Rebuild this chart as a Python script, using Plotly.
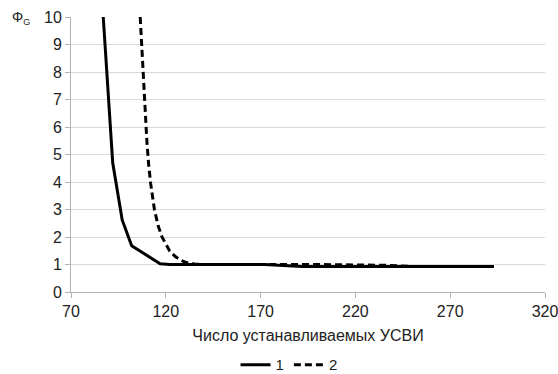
import plotly.graph_objects as go

# Series 1 (solid)
x1 = [87, 92, 97, 102, 117, 122, 140, 160, 172, 192, 220, 250, 293]
y1 = [10.0, 4.7, 2.62, 1.68, 1.03, 1.0, 1.0, 1.0, 1.0, 0.93, 0.93, 0.93, 0.93]

# Series 2 (dashed)
x2 = [106.5, 108, 109, 110, 111, 112, 114, 116, 118, 120, 122, 125, 128, 131, 135, 140,
      170, 200, 237, 250, 293]
y2 = [10.0, 8.0, 6.6, 5.5, 4.6, 3.95, 3.0, 2.4, 2.0, 1.72, 1.5, 1.29, 1.15, 1.07, 1.02, 1.0,
      1.0, 1.0, 0.97, 0.93, 0.93]

names = ["1", "2"]
x_ticks = [70, 120, 170, 220, 270, 320]
y_ticks = list(range(0, 11))

font = "Liberation Sans, Arial, sans-serif"

fig = go.Figure()
fig.add_trace(go.Scatter(x=x1, y=y1, mode="lines", name=names[0],
                         line=dict(color="black", width=3)))
fig.add_trace(go.Scatter(x=x2, y=y2, mode="lines", name=names[1],
                         line=dict(color="black", width=3, dash="7px,4px")))

fig.update_layout(
    width=558, height=374,
    margin=dict(l=71, r=13, t=17, b=82, autoexpand=False),
    paper_bgcolor="white", plot_bgcolor="white",
    font=dict(family=font, size=16, color="#222"),
    showlegend=True,
    legend=dict(orientation="h", x=0.46, xanchor="center",
                y=-0.205, yanchor="top",
                font=dict(size=15), traceorder="normal"),
    xaxis=dict(range=[70, 320], tickvals=x_ticks, showgrid=False, automargin=False,
               showline=True, linecolor="#b3b3b3", linewidth=1,
               ticks="outside", ticklen=5, tickcolor="#b3b3b3",
               ticklabeloverflow="allow",
               zeroline=False, tickfont=dict(size=16),
               title=dict(text="Число устанавливаемых УСВИ", font=dict(size=16), standoff=10)),
    yaxis=dict(range=[0, 10], tickvals=y_ticks, showgrid=True, gridcolor="#d9d9d9",
               showline=True, linecolor="#b3b3b3", linewidth=1, automargin=False,
               ticks="outside", ticklen=5, tickcolor="#b3b3b3",
               zeroline=False, tickfont=dict(size=16)),
    annotations=[dict(text="Φ<sub><span style='font-size:9px'>G</span></sub>",
                      xref="paper", yref="paper",
                      x=-0.105, y=1.035, xanchor="center", yanchor="top",
                      showarrow=False, font=dict(size=14))],
)

fig.write_html("out.html")
